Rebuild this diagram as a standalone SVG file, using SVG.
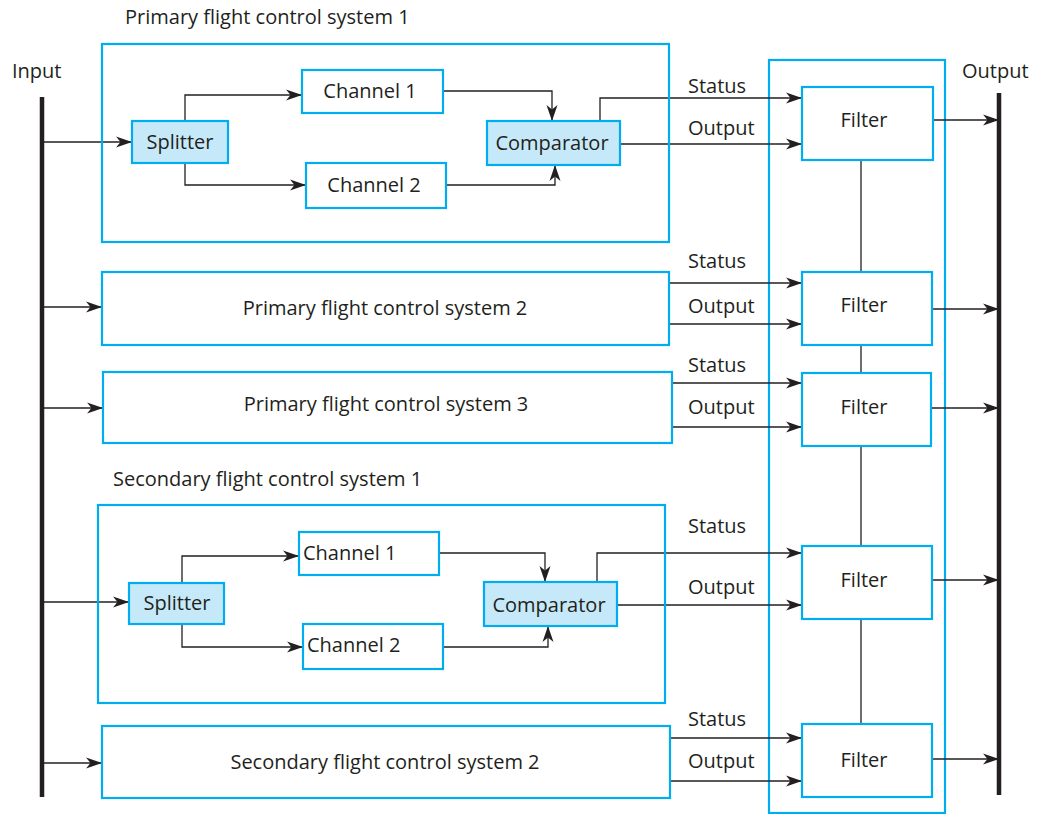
<svg xmlns="http://www.w3.org/2000/svg" width="1040" height="814" viewBox="0 0 1040 814">
<defs>
<marker id="ah" markerWidth="17" markerHeight="12" refX="16" refY="6" orient="auto" markerUnits="userSpaceOnUse">
<path d="M0,0.5 L16,6 L0,11.5 L4.5,6 Z" fill="#231f20"/>
</marker>
<style>
.box{fill:#fff;stroke:#00aeef;stroke-width:2.2}
.hl{fill:#c6e9f9;stroke:#00aeef;stroke-width:2.2}
.grp{fill:none;stroke:#00aeef;stroke-width:2.2}
.bar{stroke:#231f20;stroke-width:4.5}
.ln{fill:none;stroke:#231f20;stroke-width:1.3}
.ar{fill:none;stroke:#231f20;stroke-width:1.3;marker-end:url(#ah)}
text{font-family:"Open Sans","Noto Sans",sans-serif;font-size:20px;fill:#231f20}
.c{text-anchor:middle}
</style>
</defs>

<g id="bars">
<line class="bar" x1="42" y1="97" x2="42" y2="797"/>
<line class="bar" x1="999" y1="93" x2="999" y2="795"/>
<text x="12" y="78">Input</text>
<text x="962" y="78">Output</text>
</g>

<g id="filter-column">
<rect class="grp" x="769" y="60" width="176" height="753"/>
</g>

<g id="connectors">
<line class="ln" x1="861" y1="160" x2="861" y2="724"/>
<!-- PFCS1 -->
<path class="ar" d="M42,142 H132"/>
<path class="ar" d="M185,121 V95 H302"/>
<path class="ar" d="M185,163 V185 H306"/>
<path class="ar" d="M443,91 H552 V121"/>
<path class="ar" d="M446,185 H555 V165"/>
<path class="ar" d="M600,121 V98 H802"/>
<path class="ar" d="M620,144 H802"/>
<path class="ar" d="M933,120 H999"/>
<!-- PFCS2 -->
<path class="ar" d="M42,307 H102"/>
<path class="ar" d="M669,283 H802"/>
<path class="ar" d="M669,324 H802"/>
<path class="ar" d="M932,309 H999"/>
<!-- PFCS3 -->
<path class="ar" d="M42,408 H103"/>
<path class="ar" d="M672,383 H802"/>
<path class="ar" d="M672,427 H802"/>
<path class="ar" d="M931,408 H999"/>
<!-- SFCS1 -->
<path class="ar" d="M42,602 H129"/>
<path class="ar" d="M182,583 V556 H299"/>
<path class="ar" d="M182,624 V647 H303"/>
<path class="ar" d="M439,553 H545 V582"/>
<path class="ar" d="M443,647 H548 V626"/>
<path class="ar" d="M597,582 V553 H802"/>
<path class="ar" d="M617,605 H802"/>
<path class="ar" d="M932,580 H999"/>
<!-- SFCS2 -->
<path class="ar" d="M42,763 H102"/>
<path class="ar" d="M670,738 H802"/>
<path class="ar" d="M670,781 H802"/>
<path class="ar" d="M932,759 H999"/>
<!-- labels -->
<text x="688" y="93">Status</text>
<text x="688" y="135">Output</text>
<text x="688" y="268">Status</text>
<text x="688" y="313">Output</text>
<text x="688" y="372">Status</text>
<text x="688" y="414">Output</text>
<text x="688" y="533">Status</text>
<text x="688" y="594">Output</text>
<text x="688" y="726">Status</text>
<text x="688" y="768">Output</text>
</g>

<g id="pfcs1">
<text x="125" y="24">Primary flight control system 1</text>
<rect class="grp" x="102" y="44" width="567" height="198"/>
</g>
<g id="pfcs1-splitter"><rect class="hl" x="132" y="121" width="96" height="42"/><text class="c" x="180" y="149">Splitter</text></g>
<g id="pfcs1-channel1"><rect class="box" x="302" y="70" width="141" height="43"/><text class="c" x="370" y="98">Channel 1</text></g>
<g id="pfcs1-channel2"><rect class="box" x="306" y="163" width="140" height="45"/><text class="c" x="374" y="192">Channel 2</text></g>
<g id="pfcs1-comparator"><rect class="hl" x="487" y="121" width="133" height="44"/><text class="c" x="552" y="150">Comparator</text></g>

<g id="pfcs2"><rect class="box" x="102" y="272" width="567" height="73"/><text class="c" x="385" y="315">Primary flight control system 2</text></g>
<g id="pfcs3"><rect class="box" x="103" y="372" width="569" height="71"/><text class="c" x="386" y="411">Primary flight control system 3</text></g>

<g id="sfcs1">
<text x="113" y="486">Secondary flight control system 1</text>
<rect class="grp" x="98" y="505" width="567" height="198"/>
</g>
<g id="sfcs1-splitter"><rect class="hl" x="129" y="583" width="95" height="41"/><text class="c" x="177" y="610">Splitter</text></g>
<g id="sfcs1-channel1"><rect class="box" x="299" y="532" width="140" height="43"/><text x="303" y="560">Channel 1</text></g>
<g id="sfcs1-channel2"><rect class="box" x="303" y="624" width="140" height="45"/><text x="307" y="652">Channel 2</text></g>
<g id="sfcs1-comparator"><rect class="hl" x="484" y="582" width="133" height="44"/><text class="c" x="549" y="612">Comparator</text></g>

<g id="sfcs2"><rect class="box" x="102" y="726" width="568" height="72"/><text class="c" x="385" y="769">Secondary flight control system 2</text></g>

<g id="filter1"><rect class="box" x="802" y="87" width="131" height="73"/><text class="c" x="864" y="127">Filter</text></g>
<g id="filter2"><rect class="box" x="802" y="272" width="130" height="73"/><text class="c" x="864" y="312">Filter</text></g>
<g id="filter3"><rect class="box" x="802" y="373" width="129" height="73"/><text class="c" x="864" y="414">Filter</text></g>
<g id="filter4"><rect class="box" x="802" y="546" width="130" height="73"/><text class="c" x="864" y="587">Filter</text></g>
<g id="filter5"><rect class="box" x="802" y="724" width="130" height="73"/><text class="c" x="864" y="767">Filter</text></g>
</svg>
